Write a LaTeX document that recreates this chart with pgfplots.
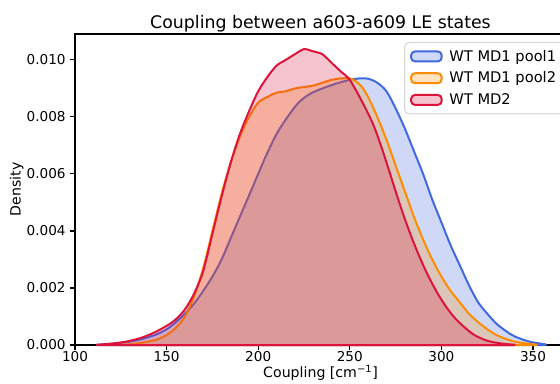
\documentclass[border=0pt]{standalone}
\usepackage{fontspec}
\setmainfont{DejaVu Sans}
\usepackage{pgfplots}
\usepackage{pgfplotstable}
\pgfplotsset{compat=1.18}
\definecolor{cblue}{RGB}{65,105,225}
\definecolor{corange}{RGB}{255,140,0}
\definecolor{cred}{RGB}{220,20,60}

\pgfplotstableread{
x y
112 0.00001
120 0.00004
128 0.0001
136 0.0002
144 0.00036
150 0.00055
155 0.0008
160 0.0011
165 0.00145
170 0.0019
175 0.0024
180 0.0030
186 0.0039
192 0.0048
198 0.0057
204 0.0066
210 0.0074
216 0.0080
222 0.0085
228 0.0088
235 0.0090
243 0.00918
250 0.0093
255 0.00935
260 0.00934
265 0.0092
270 0.0089
275 0.0083
280 0.0076
285 0.0068
290 0.0060
295 0.0051
300 0.0043
305 0.0035
310 0.0028
315 0.0021
320 0.0015
325 0.0011
330 0.00075
335 0.0005
340 0.0003
348 0.00012
357 0.00002
}\blue

\pgfplotstableread{
x y
125 0.00001
132 0.00004
140 0.00012
145 0.0002
150 0.00035
155 0.0006
160 0.001
165 0.0017
170 0.0027
175 0.0040
180 0.0053
185 0.0064
190 0.0073
195 0.0080
200 0.0085
205 0.0087
210 0.00885
215 0.0089
220 0.0090
225 0.00905
230 0.0091
235 0.0092
240 0.0093
245 0.00935
249 0.00936
252 0.0093
256 0.0091
260 0.0087
265 0.0080
270 0.0072
275 0.0063
280 0.0054
285 0.0045
290 0.0037
295 0.0030
300 0.0024
305 0.0019
310 0.0015
315 0.0011
322 0.0007
330 0.00035
340 0.00012
352 0.00001
}\orange

\pgfplotstableread{
x y
112 0.00001
120 0.00005
128 0.00012
136 0.00025
143 0.00043
150 0.00067
155 0.0009
160 0.00125
165 0.0018
170 0.0026
175 0.0039
180 0.0052
185 0.0064
190 0.0074
195 0.0082
200 0.0089
205 0.0094
210 0.0098
215 0.0100
220 0.0102
225 0.01038
230 0.0103
235 0.0102
240 0.0099
245 0.0096
250 0.0093
257 0.0085
263 0.0077
268 0.0068
273 0.0058
278 0.0048
283 0.0039
288 0.0031
293 0.0024
298 0.0018
303 0.0013
308 0.0009
313 0.0006
318 0.00035
325 0.00015
333 0.00005
340 0.00001
}\red

\begin{document}
\begin{tikzpicture}
\begin{axis}[
  name=ax, at={(0,0)}, anchor=south west,
  scale only axis, width=368.25pt, height=233.25pt,
  xmin=100, xmax=368, ymin=0, ymax=0.01091,
  xtick={100,150,200,250,300,350},
  ytick={0,0.002,0.004,0.006,0.008,0.010},
  scaled y ticks=false,
  yticklabel style={/pgf/number format/fixed, /pgf/number format/fixed zerofill, /pgf/number format/precision=3},
  xticklabel style={yshift=2pt},
  /pgf/number format/assume math mode=true,
  tick align=outside, tick pos=left, major tick length=3.5pt,
  tick style={black, line width=0.8pt},
  axis line style={line width=0.8pt},
  ticklabel style={font=\fontsize{10.2}{12}\selectfont},
  label style={font=\fontsize{10.6}{12.5}\selectfont},
  xlabel style={yshift=4.5pt},
  ylabel style={yshift=-4.5pt},
  title style={font=\fontsize{13}{15}\selectfont, yshift=-8pt},
  title={Coupling between a603-a609 LE states},
  xlabel={Coupling [cm\textsuperscript{−1}]},
  ylabel={Density},
  clip=false,
  legend cell align=left,
  legend style={at={(1,1)}, anchor=north east, xshift=-1pt, yshift=-6pt,
    draw=black!15, line width=0.8pt, rounded corners=3pt, fill=white,
    font=\fontsize{11}{13}\selectfont, inner xsep=4pt, inner ysep=3.5pt, row sep=2.5pt,
    /tikz/every odd column/.append style={column sep=3pt}},
  legend image code/.code={\draw[#1] (0pt,-3.75pt) rectangle (23pt,3.75pt);},
]
\addplot[draw=cblue, line width=1.5pt, fill=cblue, fill opacity=0.25, smooth, line join=round] table {\blue} \closedcycle;
\addlegendentry{WT MD1 pool1}
\addplot[draw=corange, line width=1.5pt, fill=corange, fill opacity=0.25, smooth, line join=round] table {\orange} \closedcycle;
\addlegendentry{WT MD1 pool2}
\addplot[draw=cred, line width=1.5pt, fill=cred, fill opacity=0.25, smooth, line join=round] table {\red} \closedcycle;
\addlegendentry{WT MD2}
\end{axis}
\pgfresetboundingbox
\useasboundingbox (-56.25pt,-28.5pt) rectangle (363.75pt,258.75pt);
\end{tikzpicture}
\end{document}
